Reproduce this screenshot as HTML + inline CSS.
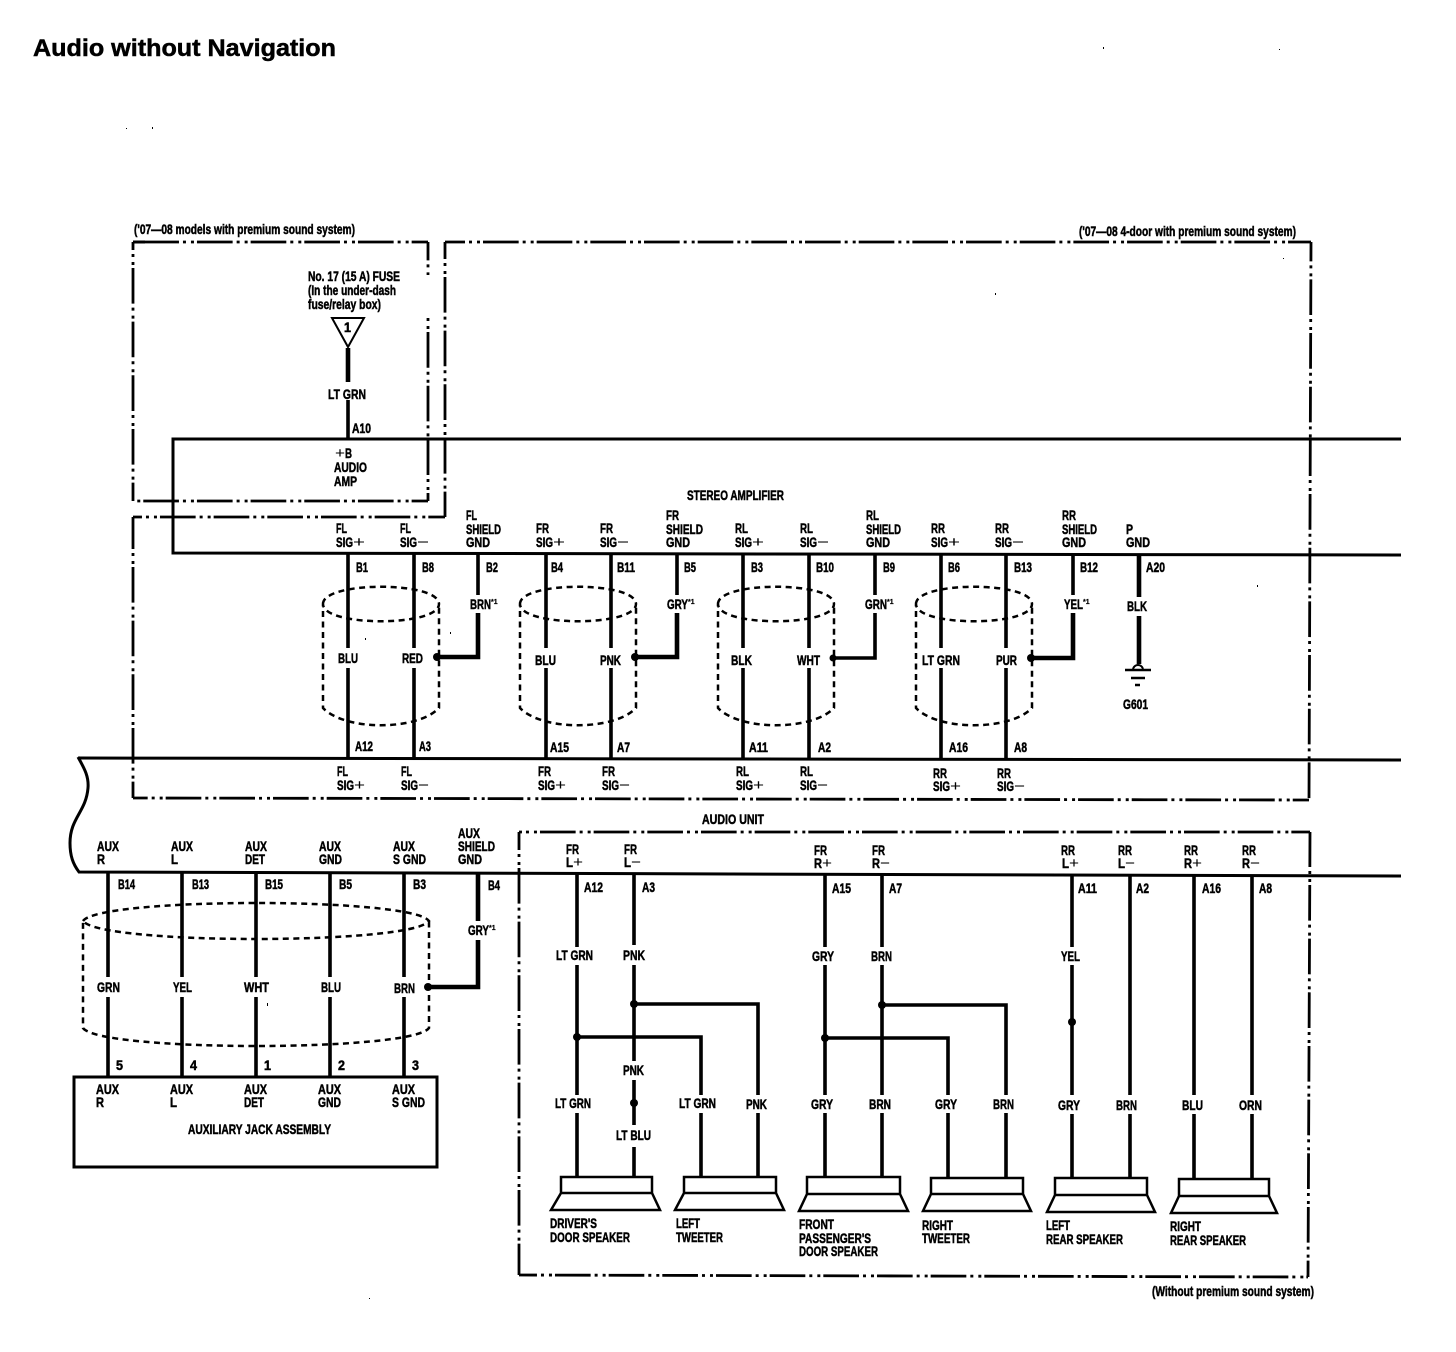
<!DOCTYPE html>
<html><head><meta charset="utf-8"><style>
html,body{margin:0;padding:0;background:#fff}
svg{display:block}
text{font-family:"Liberation Sans",sans-serif;font-weight:bold;font-size:13.5px;fill:#000;stroke:#000;stroke-width:.5px}
text.p{font-weight:normal;font-size:15px;stroke-width:0}
text.s{font-size:7px;stroke-width:.2px}
.w{fill:none;stroke:#000;stroke-width:3.6}
.t{fill:none;stroke:#000;stroke-width:4.6}
.n{fill:none;stroke:#000;stroke-width:3}
.b{fill:none;stroke:#000;stroke-width:2.8;stroke-dasharray:35.67 4 3 5 3 3}
.c{fill:none;stroke:#000;stroke-width:2.5;stroke-dasharray:6 4.5}
</style></head><body>
<svg width="1456" height="1352" viewBox="0 0 1456 1352" xmlns="http://www.w3.org/2000/svg">
<rect width="1456" height="1352" fill="#fff"/>
<text x="33" y="56" style="font-size:24px;stroke-width:.5px" textLength="303" lengthAdjust="spacingAndGlyphs">Audio without Navigation</text>

<!-- dash-dot boxes: box 1 -->
<path class="n" d="M133 242H145"/>
<path class="b" d="M143.3 242H428"/>
<path class="b" stroke-dashoffset="27.7" d="M133 242V501"/>
<path class="b" stroke-dashoffset="17.3" d="M428 242V501"/>
<path class="b" stroke-dashoffset="43.4" d="M133 501H428"/>
<rect x="425" y="275" width="6" height="39" fill="#fff"/>
<!-- box 2 -->
<path class="b" stroke-dashoffset="18.7" d="M445 242V517"/>
<path class="b" stroke-dashoffset="15.67" d="M445 242H1311"/>
<path class="b" stroke-dashoffset="16.3" d="M1311 242L1309 800"/>
<path class="b" stroke-dashoffset="21" d="M133 798L1309 800"/>
<path class="b" stroke-dashoffset="3.7" d="M133 517V798"/>
<path class="b" stroke-dashoffset="26.7" d="M133 517H445"/>
<!-- box 3 -->
<path class="b" stroke-dashoffset="32.7" d="M519 832H1310"/>
<path class="b" stroke-dashoffset="17.7" d="M519 832V1275"/>
<path class="b" stroke-dashoffset="17.7" d="M519 1275L1308 1277"/>
<path class="b" stroke-dashoffset=".7" d="M1310 832L1308 1277"/>

<!-- buses -->
<path class="n" d="M1401 439H173V553L1401 555"/>
<path class="n" d="M1401 760L78 758"/>
<path class="n" d="M78 757C84 768 89 776 88 788C86 812 70 818 70 843C70 856 73 864 79 872L1401 876"/>
<rect x="74" y="1077" width="363" height="90" class="n"/>

<!-- fuse -->
<path d="M332 318H364L348 347Z" fill="none" stroke="#000" stroke-width="2"/>
<path class="t" d="M348 348V382"/>
<path class="w" d="M348 400V438"/>

<!-- amp wires -->
<path class="w" d="M348 554V648M348 668V758M414 554V648M414 668V758
M546 554V648M546 668V758M611 554V648M611 668V758
M743 554V648M743 668V758M809 554V648M809 668V758
M941 554V648M941 668V758M1006 554V648M1006 668V758"/>
<path class="w" d="M478 554V595M677 554V595M875 554V595M1073 554V595"/>
<path class="t" d="M478 613V657H437M677 613V657H635"/>
<path class="w" d="M875 613V658H833"/>
<path class="t" d="M1073 613V658H1031"/>
<path class="t" d="M1139 555V597M1139 616V664"/>
<circle cx="437" cy="657" r="4"/><circle cx="635" cy="657" r="4"/><circle cx="833" cy="658" r="3.5"/><circle cx="1031" cy="658" r="4"/>
<path d="M1133 670a5 5 0 0 1 10 0" fill="none" stroke="#000" stroke-width="2"/>
<path d="M1125 670H1151M1131 678H1145M1135 685H1140" stroke="#000" stroke-width="2.4"/>

<!-- cylinders -->
<path class="c" d="M323 604C323 581 439 581 439 604C439 627 323 627 323 604V708C345 731 417 731 439 708V604"/>
<path class="c" d="M520 604C520 581 636 581 636 604C636 627 520 627 520 604V708C542 731 614 731 636 708V604"/>
<path class="c" d="M718 604C718 581 834 581 834 604C834 627 718 627 718 604V708C740 731 812 731 834 708V604"/>
<path class="c" d="M916 604C916 581 1032 581 1032 604C1032 627 916 627 916 604V708C938 731 1010 731 1032 708V604"/>
<path class="c" d="M83 921C100 897 412 897 429 921C412 945 100 945 83 921V1028C100 1052 412 1052 429 1028V921"/>

<!-- aux wires -->
<path class="w" d="M108 873V977M108 997V1077M182 873V977M182 997V1077M256 873V977M256 997V1077M330 873V977M330 997V1077M404 873V977M404 997V1077"/>
<path class="t" d="M478 874V921M478 940V987H428"/>
<circle cx="428" cy="987" r="4"/>

<!-- audio unit wires -->
<path class="w" d="M577 873V947M577 965V1095M577 1113V1177M577 1037H701V1095M701 1113V1177
M634 873V945M634 965V1061M634 1080V1125M634 1147V1177M634 1004H758V1095M758 1113V1177
M825 873V947M825 965V1095M825 1113V1177M825 1038H948V1095M948 1113V1177
M882 873V947M882 965V1095M882 1113V1177M882 1005H1006V1095M1006 1113V1177
M1072 875V947M1072 965V1095M1072 1114V1178M1130 875V1095M1130 1114V1178
M1194 875V1095M1194 1114V1179M1252 876V1095M1252 1114V1179"/>
<circle cx="577" cy="1037" r="4"/><circle cx="634" cy="1004" r="4"/><circle cx="634" cy="1103" r="4"/><circle cx="825" cy="1038" r="4"/><circle cx="882" cy="1005" r="4"/><circle cx="1072" cy="1022" r="4"/>

<!-- speakers -->
<g fill="none" stroke="#000" stroke-width="2.5">
<path d="M561 1193V1177H652V1193H561L551 1210H660L652 1193"/>
<path d="M684 1193V1177H776V1193H684L675 1210H784L776 1193"/>
<path d="M807 1194V1177H900V1194H807L799 1211H908L900 1194"/>
<path d="M931 1194V1178H1023V1194H931L923 1211H1031L1023 1194"/>
<path d="M1055 1195V1178H1147V1195H1055L1047 1212H1155L1147 1195"/>
<path d="M1179 1196V1179H1269V1196H1179L1171 1213H1277L1269 1196"/>
</g>

<!-- specks -->
<g fill="#000">
<rect x="1103" y="47" width="1" height="2"/><rect x="1279" y="49" width="1" height="1"/><rect x="126" y="128" width="1" height="1"/><rect x="152" y="127" width="1" height="2"/><rect x="995" y="293" width="1" height="2"/><rect x="1257" y="585" width="1" height="2"/><rect x="365" y="638" width="1" height="2"/><rect x="450" y="632" width="1" height="2"/><rect x="267" y="1003" width="1" height="3"/><rect x="369" y="1298" width="1" height="1"/><rect x="1283" y="258" width="1" height="1"/>
</g>

<!-- headers -->
<text x="134" y="234" textLength="221" lengthAdjust="spacingAndGlyphs">('07—08 models with premium sound system)</text>
<text x="1079" y="236" textLength="217" lengthAdjust="spacingAndGlyphs">('07—08 4-door with premium sound system)</text>
<text x="1152" y="1296" textLength="162" lengthAdjust="spacingAndGlyphs">(Without premium sound system)</text>
<text x="687" y="500" textLength="97" lengthAdjust="spacingAndGlyphs">STEREO AMPLIFIER</text>
<text x="702" y="824" textLength="62" lengthAdjust="spacingAndGlyphs">AUDIO UNIT</text>
<text x="308" y="281" textLength="92" lengthAdjust="spacingAndGlyphs">No. 17 (15 A) FUSE</text>
<text x="308" y="295" textLength="88" lengthAdjust="spacingAndGlyphs">(In the under-dash</text>
<text x="308" y="309" textLength="73" lengthAdjust="spacingAndGlyphs">fuse/relay box)</text>
<text x="344" y="332" textLength="7" lengthAdjust="spacingAndGlyphs">1</text>
<text x="328" y="399" textLength="38" lengthAdjust="spacingAndGlyphs">LT GRN</text>
<text x="352" y="433" textLength="19" lengthAdjust="spacingAndGlyphs">A10</text>
<text class="p" x="335" y="458" textLength="10" lengthAdjust="spacingAndGlyphs">+</text><text x="345" y="458" textLength="7" lengthAdjust="spacingAndGlyphs">B</text>
<text x="334" y="472" textLength="33" lengthAdjust="spacingAndGlyphs">AUDIO</text>
<text x="334" y="486" textLength="23" lengthAdjust="spacingAndGlyphs">AMP</text>
<text x="1123" y="709" textLength="25" lengthAdjust="spacingAndGlyphs">G601</text>

<!-- amp top labels -->
<g>
<text x="336" y="533" textLength="11" lengthAdjust="spacingAndGlyphs">FL</text><text x="336" y="547" textLength="17" lengthAdjust="spacingAndGlyphs">SIG</text><text class="p" x="353" y="547" textLength="12" lengthAdjust="spacingAndGlyphs">+</text>
<text x="400" y="533" textLength="11" lengthAdjust="spacingAndGlyphs">FL</text><text x="400" y="547" textLength="17" lengthAdjust="spacingAndGlyphs">SIG</text><text class="p" x="417" y="547" textLength="12" lengthAdjust="spacingAndGlyphs">−</text>
<text x="466" y="520" textLength="11" lengthAdjust="spacingAndGlyphs">FL</text><text x="466" y="534" textLength="35" lengthAdjust="spacingAndGlyphs">SHIELD</text><text x="466" y="547" textLength="24" lengthAdjust="spacingAndGlyphs">GND</text>
<text x="536" y="533" textLength="13" lengthAdjust="spacingAndGlyphs">FR</text><text x="536" y="547" textLength="17" lengthAdjust="spacingAndGlyphs">SIG</text><text class="p" x="553" y="547" textLength="12" lengthAdjust="spacingAndGlyphs">+</text>
<text x="600" y="533" textLength="13" lengthAdjust="spacingAndGlyphs">FR</text><text x="600" y="547" textLength="17" lengthAdjust="spacingAndGlyphs">SIG</text><text class="p" x="617" y="547" textLength="12" lengthAdjust="spacingAndGlyphs">−</text>
<text x="666" y="520" textLength="13" lengthAdjust="spacingAndGlyphs">FR</text><text x="666" y="534" textLength="37" lengthAdjust="spacingAndGlyphs">SHIELD</text><text x="666" y="547" textLength="24" lengthAdjust="spacingAndGlyphs">GND</text>
<text x="735" y="533" textLength="13" lengthAdjust="spacingAndGlyphs">RL</text><text x="735" y="547" textLength="17" lengthAdjust="spacingAndGlyphs">SIG</text><text class="p" x="752" y="547" textLength="12" lengthAdjust="spacingAndGlyphs">+</text>
<text x="800" y="533" textLength="13" lengthAdjust="spacingAndGlyphs">RL</text><text x="800" y="547" textLength="17" lengthAdjust="spacingAndGlyphs">SIG</text><text class="p" x="817" y="547" textLength="12" lengthAdjust="spacingAndGlyphs">−</text>
<text x="866" y="520" textLength="13" lengthAdjust="spacingAndGlyphs">RL</text><text x="866" y="534" textLength="35" lengthAdjust="spacingAndGlyphs">SHIELD</text><text x="866" y="547" textLength="24" lengthAdjust="spacingAndGlyphs">GND</text>
<text x="931" y="533" textLength="14" lengthAdjust="spacingAndGlyphs">RR</text><text x="931" y="547" textLength="17" lengthAdjust="spacingAndGlyphs">SIG</text><text class="p" x="948" y="547" textLength="12" lengthAdjust="spacingAndGlyphs">+</text>
<text x="995" y="533" textLength="14" lengthAdjust="spacingAndGlyphs">RR</text><text x="995" y="547" textLength="17" lengthAdjust="spacingAndGlyphs">SIG</text><text class="p" x="1012" y="547" textLength="12" lengthAdjust="spacingAndGlyphs">−</text>
<text x="1062" y="520" textLength="14" lengthAdjust="spacingAndGlyphs">RR</text><text x="1062" y="534" textLength="35" lengthAdjust="spacingAndGlyphs">SHIELD</text><text x="1062" y="547" textLength="24" lengthAdjust="spacingAndGlyphs">GND</text>
<text x="1126" y="534" textLength="7" lengthAdjust="spacingAndGlyphs">P</text><text x="1126" y="547" textLength="24" lengthAdjust="spacingAndGlyphs">GND</text>
</g>
<!-- amp pins -->
<g>
<text x="356" y="572" textLength="12" lengthAdjust="spacingAndGlyphs">B1</text><text x="422" y="572" textLength="12" lengthAdjust="spacingAndGlyphs">B8</text><text x="486" y="572" textLength="12" lengthAdjust="spacingAndGlyphs">B2</text>
<text x="551" y="572" textLength="12" lengthAdjust="spacingAndGlyphs">B4</text><text x="617" y="572" textLength="18" lengthAdjust="spacingAndGlyphs">B11</text><text x="684" y="572" textLength="12" lengthAdjust="spacingAndGlyphs">B5</text>
<text x="751" y="572" textLength="12" lengthAdjust="spacingAndGlyphs">B3</text><text x="816" y="572" textLength="18" lengthAdjust="spacingAndGlyphs">B10</text><text x="883" y="572" textLength="12" lengthAdjust="spacingAndGlyphs">B9</text>
<text x="948" y="572" textLength="12" lengthAdjust="spacingAndGlyphs">B6</text><text x="1014" y="572" textLength="18" lengthAdjust="spacingAndGlyphs">B13</text><text x="1080" y="572" textLength="18" lengthAdjust="spacingAndGlyphs">B12</text><text x="1146" y="572" textLength="19" lengthAdjust="spacingAndGlyphs">A20</text>
</g>
<!-- amp wire colours -->
<g>
<text x="470" y="609" textLength="21" lengthAdjust="spacingAndGlyphs">BRN</text><text class="s" x="491" y="604">*1</text>
<text x="667" y="609" textLength="21" lengthAdjust="spacingAndGlyphs">GRY</text><text class="s" x="688" y="604">*1</text>
<text x="865" y="609" textLength="22" lengthAdjust="spacingAndGlyphs">GRN</text><text class="s" x="887" y="604">*1</text>
<text x="1064" y="609" textLength="19" lengthAdjust="spacingAndGlyphs">YEL</text><text class="s" x="1083" y="604">*1</text>
<text x="1127" y="611" textLength="20" lengthAdjust="spacingAndGlyphs">BLK</text>
<text x="338" y="663" textLength="20" lengthAdjust="spacingAndGlyphs">BLU</text><text x="402" y="663" textLength="21" lengthAdjust="spacingAndGlyphs">RED</text>
<text x="535" y="665" textLength="21" lengthAdjust="spacingAndGlyphs">BLU</text><text x="600" y="665" textLength="21" lengthAdjust="spacingAndGlyphs">PNK</text>
<text x="731" y="665" textLength="21" lengthAdjust="spacingAndGlyphs">BLK</text><text x="797" y="665" textLength="23" lengthAdjust="spacingAndGlyphs">WHT</text>
<text x="922" y="665" textLength="38" lengthAdjust="spacingAndGlyphs">LT GRN</text><text x="996" y="665" textLength="21" lengthAdjust="spacingAndGlyphs">PUR</text>
</g>
<!-- A pins -->
<g>
<text x="355" y="751" textLength="18" lengthAdjust="spacingAndGlyphs">A12</text><text x="419" y="751" textLength="12" lengthAdjust="spacingAndGlyphs">A3</text>
<text x="550" y="752" textLength="19" lengthAdjust="spacingAndGlyphs">A15</text><text x="617" y="752" textLength="13" lengthAdjust="spacingAndGlyphs">A7</text>
<text x="749" y="752" textLength="19" lengthAdjust="spacingAndGlyphs">A11</text><text x="818" y="752" textLength="13" lengthAdjust="spacingAndGlyphs">A2</text>
<text x="949" y="752" textLength="19" lengthAdjust="spacingAndGlyphs">A16</text><text x="1014" y="752" textLength="13" lengthAdjust="spacingAndGlyphs">A8</text>
</g>
<!-- audio unit amp-side labels -->
<g>
<text x="337" y="776" textLength="11" lengthAdjust="spacingAndGlyphs">FL</text><text x="337" y="790" textLength="17" lengthAdjust="spacingAndGlyphs">SIG</text><text class="p" x="354" y="790" textLength="11" lengthAdjust="spacingAndGlyphs">+</text>
<text x="401" y="776" textLength="11" lengthAdjust="spacingAndGlyphs">FL</text><text x="401" y="790" textLength="17" lengthAdjust="spacingAndGlyphs">SIG</text><text class="p" x="418" y="790" textLength="11" lengthAdjust="spacingAndGlyphs">−</text>
<text x="538" y="776" textLength="13" lengthAdjust="spacingAndGlyphs">FR</text><text x="538" y="790" textLength="17" lengthAdjust="spacingAndGlyphs">SIG</text><text class="p" x="555" y="790" textLength="11" lengthAdjust="spacingAndGlyphs">+</text>
<text x="602" y="776" textLength="13" lengthAdjust="spacingAndGlyphs">FR</text><text x="602" y="790" textLength="17" lengthAdjust="spacingAndGlyphs">SIG</text><text class="p" x="619" y="790" textLength="11" lengthAdjust="spacingAndGlyphs">−</text>
<text x="736" y="776" textLength="13" lengthAdjust="spacingAndGlyphs">RL</text><text x="736" y="790" textLength="17" lengthAdjust="spacingAndGlyphs">SIG</text><text class="p" x="753" y="790" textLength="11" lengthAdjust="spacingAndGlyphs">+</text>
<text x="800" y="776" textLength="13" lengthAdjust="spacingAndGlyphs">RL</text><text x="800" y="790" textLength="17" lengthAdjust="spacingAndGlyphs">SIG</text><text class="p" x="817" y="790" textLength="11" lengthAdjust="spacingAndGlyphs">−</text>
<text x="933" y="778" textLength="14" lengthAdjust="spacingAndGlyphs">RR</text><text x="933" y="791" textLength="17" lengthAdjust="spacingAndGlyphs">SIG</text><text class="p" x="950" y="791" textLength="11" lengthAdjust="spacingAndGlyphs">+</text>
<text x="997" y="778" textLength="14" lengthAdjust="spacingAndGlyphs">RR</text><text x="997" y="791" textLength="17" lengthAdjust="spacingAndGlyphs">SIG</text><text class="p" x="1014" y="791" textLength="11" lengthAdjust="spacingAndGlyphs">−</text>
</g>
<!-- AUX labels -->
<g>
<text x="97" y="851" textLength="22" lengthAdjust="spacingAndGlyphs">AUX</text><text x="97" y="864" textLength="8" lengthAdjust="spacingAndGlyphs">R</text>
<text x="171" y="851" textLength="22" lengthAdjust="spacingAndGlyphs">AUX</text><text x="171" y="864" textLength="7" lengthAdjust="spacingAndGlyphs">L</text>
<text x="245" y="851" textLength="22" lengthAdjust="spacingAndGlyphs">AUX</text><text x="245" y="864" textLength="20" lengthAdjust="spacingAndGlyphs">DET</text>
<text x="319" y="851" textLength="22" lengthAdjust="spacingAndGlyphs">AUX</text><text x="319" y="864" textLength="23" lengthAdjust="spacingAndGlyphs">GND</text>
<text x="393" y="851" textLength="22" lengthAdjust="spacingAndGlyphs">AUX</text><text x="393" y="864" textLength="33" lengthAdjust="spacingAndGlyphs">S GND</text>
<text x="458" y="838" textLength="22" lengthAdjust="spacingAndGlyphs">AUX</text><text x="458" y="851" textLength="37" lengthAdjust="spacingAndGlyphs">SHIELD</text><text x="458" y="864" textLength="24" lengthAdjust="spacingAndGlyphs">GND</text>
<text x="118" y="889" textLength="17" lengthAdjust="spacingAndGlyphs">B14</text><text x="192" y="889" textLength="17" lengthAdjust="spacingAndGlyphs">B13</text><text x="265" y="889" textLength="18" lengthAdjust="spacingAndGlyphs">B15</text><text x="339" y="889" textLength="13" lengthAdjust="spacingAndGlyphs">B5</text><text x="413" y="889" textLength="13" lengthAdjust="spacingAndGlyphs">B3</text><text x="488" y="890" textLength="12" lengthAdjust="spacingAndGlyphs">B4</text>
<text x="468" y="935" textLength="21" lengthAdjust="spacingAndGlyphs">GRY</text><text class="s" x="489" y="930">*1</text>
<text x="97" y="992" textLength="23" lengthAdjust="spacingAndGlyphs">GRN</text><text x="173" y="992" textLength="19" lengthAdjust="spacingAndGlyphs">YEL</text><text x="244" y="992" textLength="25" lengthAdjust="spacingAndGlyphs">WHT</text><text x="321" y="992" textLength="20" lengthAdjust="spacingAndGlyphs">BLU</text><text x="394" y="993" textLength="21" lengthAdjust="spacingAndGlyphs">BRN</text>
<text x="116" y="1070" textLength="7" lengthAdjust="spacingAndGlyphs">5</text><text x="190" y="1070" textLength="7" lengthAdjust="spacingAndGlyphs">4</text><text x="264" y="1070" textLength="7" lengthAdjust="spacingAndGlyphs">1</text><text x="338" y="1070" textLength="7" lengthAdjust="spacingAndGlyphs">2</text><text x="412" y="1070" textLength="7" lengthAdjust="spacingAndGlyphs">3</text>
<text x="96" y="1094" textLength="23" lengthAdjust="spacingAndGlyphs">AUX</text><text x="96" y="1107" textLength="8" lengthAdjust="spacingAndGlyphs">R</text>
<text x="170" y="1094" textLength="23" lengthAdjust="spacingAndGlyphs">AUX</text><text x="170" y="1107" textLength="7" lengthAdjust="spacingAndGlyphs">L</text>
<text x="244" y="1094" textLength="23" lengthAdjust="spacingAndGlyphs">AUX</text><text x="244" y="1107" textLength="20" lengthAdjust="spacingAndGlyphs">DET</text>
<text x="318" y="1094" textLength="23" lengthAdjust="spacingAndGlyphs">AUX</text><text x="318" y="1107" textLength="23" lengthAdjust="spacingAndGlyphs">GND</text>
<text x="392" y="1094" textLength="23" lengthAdjust="spacingAndGlyphs">AUX</text><text x="392" y="1107" textLength="33" lengthAdjust="spacingAndGlyphs">S GND</text>
<text x="188" y="1134" textLength="143" lengthAdjust="spacingAndGlyphs">AUXILIARY JACK ASSEMBLY</text>
</g>
<!-- audio unit labels -->
<g>
<text x="566" y="854" textLength="13" lengthAdjust="spacingAndGlyphs">FR</text><text x="566" y="867" textLength="7" lengthAdjust="spacingAndGlyphs">L</text><text class="p" x="573" y="867" textLength="10" lengthAdjust="spacingAndGlyphs">+</text>
<text x="624" y="854" textLength="13" lengthAdjust="spacingAndGlyphs">FR</text><text x="624" y="867" textLength="7" lengthAdjust="spacingAndGlyphs">L</text><text class="p" x="631" y="867" textLength="10" lengthAdjust="spacingAndGlyphs">−</text>
<text x="814" y="855" textLength="13" lengthAdjust="spacingAndGlyphs">FR</text><text x="814" y="868" textLength="8" lengthAdjust="spacingAndGlyphs">R</text><text class="p" x="822" y="868" textLength="10" lengthAdjust="spacingAndGlyphs">+</text>
<text x="872" y="855" textLength="13" lengthAdjust="spacingAndGlyphs">FR</text><text x="872" y="868" textLength="8" lengthAdjust="spacingAndGlyphs">R</text><text class="p" x="880" y="868" textLength="10" lengthAdjust="spacingAndGlyphs">−</text>
<text x="1061" y="855" textLength="14" lengthAdjust="spacingAndGlyphs">RR</text><text x="1062" y="868" textLength="7" lengthAdjust="spacingAndGlyphs">L</text><text class="p" x="1069" y="868" textLength="10" lengthAdjust="spacingAndGlyphs">+</text>
<text x="1118" y="855" textLength="14" lengthAdjust="spacingAndGlyphs">RR</text><text x="1118" y="868" textLength="7" lengthAdjust="spacingAndGlyphs">L</text><text class="p" x="1125" y="868" textLength="10" lengthAdjust="spacingAndGlyphs">−</text>
<text x="1184" y="855" textLength="14" lengthAdjust="spacingAndGlyphs">RR</text><text x="1184" y="868" textLength="8" lengthAdjust="spacingAndGlyphs">R</text><text class="p" x="1192" y="868" textLength="10" lengthAdjust="spacingAndGlyphs">+</text>
<text x="1242" y="855" textLength="14" lengthAdjust="spacingAndGlyphs">RR</text><text x="1242" y="868" textLength="8" lengthAdjust="spacingAndGlyphs">R</text><text class="p" x="1250" y="868" textLength="10" lengthAdjust="spacingAndGlyphs">−</text>
<text x="584" y="892" textLength="19" lengthAdjust="spacingAndGlyphs">A12</text><text x="642" y="892" textLength="13" lengthAdjust="spacingAndGlyphs">A3</text><text x="832" y="893" textLength="19" lengthAdjust="spacingAndGlyphs">A15</text><text x="889" y="893" textLength="13" lengthAdjust="spacingAndGlyphs">A7</text><text x="1078" y="893" textLength="19" lengthAdjust="spacingAndGlyphs">A11</text><text x="1136" y="893" textLength="13" lengthAdjust="spacingAndGlyphs">A2</text><text x="1202" y="893" textLength="19" lengthAdjust="spacingAndGlyphs">A16</text><text x="1259" y="893" textLength="13" lengthAdjust="spacingAndGlyphs">A8</text>
<text x="556" y="960" textLength="37" lengthAdjust="spacingAndGlyphs">LT GRN</text><text x="623" y="960" textLength="22" lengthAdjust="spacingAndGlyphs">PNK</text><text x="812" y="961" textLength="22" lengthAdjust="spacingAndGlyphs">GRY</text><text x="871" y="961" textLength="21" lengthAdjust="spacingAndGlyphs">BRN</text><text x="1061" y="961" textLength="19" lengthAdjust="spacingAndGlyphs">YEL</text>
<text x="623" y="1075" textLength="21" lengthAdjust="spacingAndGlyphs">PNK</text><text x="616" y="1140" textLength="35" lengthAdjust="spacingAndGlyphs">LT BLU</text>
<text x="555" y="1108" textLength="36" lengthAdjust="spacingAndGlyphs">LT GRN</text><text x="679" y="1108" textLength="37" lengthAdjust="spacingAndGlyphs">LT GRN</text><text x="746" y="1109" textLength="21" lengthAdjust="spacingAndGlyphs">PNK</text>
<text x="811" y="1109" textLength="22" lengthAdjust="spacingAndGlyphs">GRY</text><text x="869" y="1109" textLength="22" lengthAdjust="spacingAndGlyphs">BRN</text><text x="935" y="1109" textLength="22" lengthAdjust="spacingAndGlyphs">GRY</text><text x="993" y="1109" textLength="21" lengthAdjust="spacingAndGlyphs">BRN</text>
<text x="1058" y="1110" textLength="22" lengthAdjust="spacingAndGlyphs">GRY</text><text x="1116" y="1110" textLength="21" lengthAdjust="spacingAndGlyphs">BRN</text><text x="1182" y="1110" textLength="21" lengthAdjust="spacingAndGlyphs">BLU</text><text x="1239" y="1110" textLength="23" lengthAdjust="spacingAndGlyphs">ORN</text>
<text x="550" y="1228" textLength="47" lengthAdjust="spacingAndGlyphs">DRIVER'S</text><text x="550" y="1242" textLength="80" lengthAdjust="spacingAndGlyphs">DOOR SPEAKER</text>
<text x="676" y="1228" textLength="24" lengthAdjust="spacingAndGlyphs">LEFT</text><text x="676" y="1242" textLength="47" lengthAdjust="spacingAndGlyphs">TWEETER</text>
<text x="799" y="1229" textLength="35" lengthAdjust="spacingAndGlyphs">FRONT</text><text x="799" y="1243" textLength="72" lengthAdjust="spacingAndGlyphs">PASSENGER'S</text><text x="799" y="1256" textLength="79" lengthAdjust="spacingAndGlyphs">DOOR SPEAKER</text>
<text x="922" y="1230" textLength="31" lengthAdjust="spacingAndGlyphs">RIGHT</text><text x="922" y="1243" textLength="48" lengthAdjust="spacingAndGlyphs">TWEETER</text>
<text x="1046" y="1230" textLength="24" lengthAdjust="spacingAndGlyphs">LEFT</text><text x="1046" y="1244" textLength="77" lengthAdjust="spacingAndGlyphs">REAR SPEAKER</text>
<text x="1170" y="1231" textLength="31" lengthAdjust="spacingAndGlyphs">RIGHT</text><text x="1170" y="1245" textLength="76" lengthAdjust="spacingAndGlyphs">REAR SPEAKER</text>
</g>
</svg>
</body></html>
